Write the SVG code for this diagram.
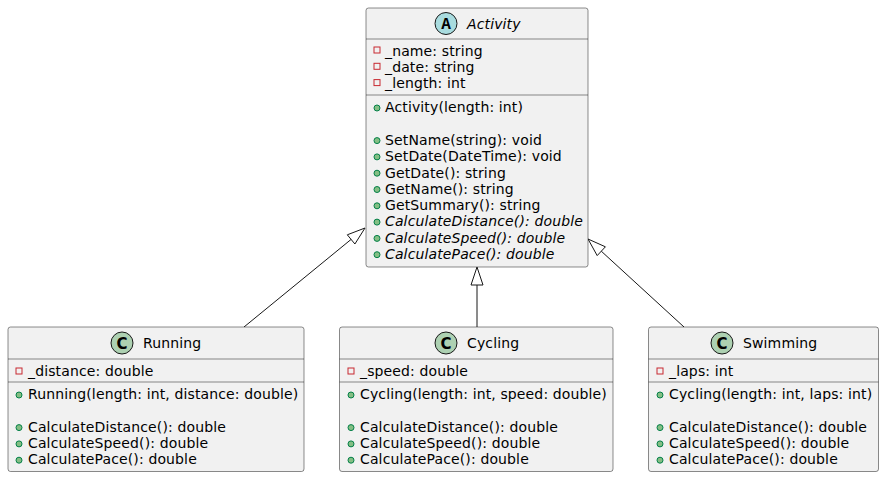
<svg xmlns="http://www.w3.org/2000/svg" width="884" height="478" viewBox="0 0 884 478">
<style>
.box{fill:#F1F1F1;stroke:#181818;stroke-width:0.5}
.sep{stroke:#181818;stroke-width:0.5}
.t{font-family:"DejaVu Sans","Liberation Sans",sans-serif;font-size:14px;letter-spacing:0.13px;fill:#000000}
.i{font-style:italic}
.cc{fill:#ADD1B2;stroke:#181818;stroke-width:1}
.ca{fill:#A9DCDF;stroke:#181818;stroke-width:1}
.cl{font-family:"DejaVu Sans","Liberation Sans",sans-serif;font-size:15px;font-weight:bold;fill:#000000;text-anchor:middle}
.al{font-family:"Liberation Mono","DejaVu Sans Mono",monospace;font-size:16px;font-weight:bold;fill:#000000;text-anchor:middle}
.priv{fill:none;stroke:#C82930;stroke-width:1}
.pub{fill:#84BE84;stroke:#038048;stroke-width:1}
.edge{stroke:#181818;stroke-width:1;fill:none}
.head{fill:none;stroke:#181818;stroke-width:1}
</style>
<g id="connectors">
  <path class="edge" d="M244,327 L351.1,239.4"/>
  <polygon class="head" points="365,228 354.9,244 347.3,234.8"/>
  <path class="edge" d="M477,327 L477,285"/>
  <polygon class="head" points="477,267 471,285 483,285"/>
  <path class="edge" d="M684,327 L601.3,251.2"/>
  <polygon class="head" points="588,239 605.4,246.8 597.2,255.6"/>
</g>
<g id="Activity">
  <rect class="box" x="366" y="8" width="222" height="259" rx="2.5"/>
  <circle class="ca" cx="446" cy="23.5" r="11"/>
  <text class="al" x="446" y="28.5">A</text>
  <text class="t i" x="467" y="28.5">Activity</text>
  <line class="sep" x1="366" y1="39" x2="588" y2="39"/>
  <rect class="priv" x="374" y="47" width="6" height="6"/>
  <text class="t" x="385" y="55.5">_name: string</text>
  <rect class="priv" x="374" y="63.3" width="6" height="6"/>
  <text class="t" x="385" y="71.8">_date: string</text>
  <rect class="priv" x="374" y="79.6" width="6" height="6"/>
  <text class="t" x="385" y="88.1">_length: int</text>
  <line class="sep" x1="366" y1="95" x2="588" y2="95"/>
  <circle class="pub" cx="377" cy="108" r="3"/>
  <text class="t" x="385" y="112.3">Activity(length: int)</text>
  <circle class="pub" cx="377" cy="140.6" r="3"/>
  <text class="t" x="385" y="144.9">SetName(string): void</text>
  <circle class="pub" cx="377" cy="156.9" r="3"/>
  <text class="t" x="385" y="161.2">SetDate(DateTime): void</text>
  <circle class="pub" cx="377" cy="173.2" r="3"/>
  <text class="t" x="385" y="177.5">GetDate(): string</text>
  <circle class="pub" cx="377" cy="189.5" r="3"/>
  <text class="t" x="385" y="193.8">GetName(): string</text>
  <circle class="pub" cx="377" cy="205.8" r="3"/>
  <text class="t" x="385" y="210.1">GetSummary(): string</text>
  <circle class="pub" cx="377" cy="222.1" r="3"/>
  <text class="t i" x="385" y="226.4">CalculateDistance(): double</text>
  <circle class="pub" cx="377" cy="238.4" r="3"/>
  <text class="t i" x="385" y="242.7">CalculateSpeed(): double</text>
  <circle class="pub" cx="377" cy="254.7" r="3"/>
  <text class="t i" x="385" y="259">CalculatePace(): double</text>
</g>
<g id="Running">
  <rect class="box" x="8" y="327" width="296" height="144.5" rx="2.5"/>
  <circle class="cc" cx="122" cy="343" r="11"/>
  <text class="cl" x="122" y="348.5">C</text>
  <text class="t" x="143" y="348">Running</text>
  <line class="sep" x1="8" y1="359" x2="304" y2="359"/>
  <rect class="priv" x="16" y="368" width="6" height="6"/>
  <text class="t" x="28" y="375.5">_distance: double</text>
  <line class="sep" x1="8" y1="382" x2="304" y2="382"/>
  <circle class="pub" cx="19" cy="395" r="3"/>
  <text class="t" x="28" y="399.2">Running(length: int, distance: double)</text>
  <circle class="pub" cx="19" cy="427.6" r="3"/>
  <text class="t" x="28" y="431.8">CalculateDistance(): double</text>
  <circle class="pub" cx="19" cy="443.9" r="3"/>
  <text class="t" x="28" y="448.1">CalculateSpeed(): double</text>
  <circle class="pub" cx="19" cy="460.2" r="3"/>
  <text class="t" x="28" y="464.4">CalculatePace(): double</text>
</g>
<g id="Cycling">
  <rect class="box" x="339.5" y="327" width="273.5" height="144.5" rx="2.5"/>
  <circle class="cc" cx="446" cy="343" r="11"/>
  <text class="cl" x="446" y="348.5">C</text>
  <text class="t" x="467" y="348">Cycling</text>
  <line class="sep" x1="339.5" y1="359" x2="613" y2="359"/>
  <rect class="priv" x="348" y="368" width="6" height="6"/>
  <text class="t" x="360" y="375.5">_speed: double</text>
  <line class="sep" x1="339.5" y1="382" x2="613" y2="382"/>
  <circle class="pub" cx="351" cy="395" r="3"/>
  <text class="t" x="360" y="399.2">Cycling(length: int, speed: double)</text>
  <circle class="pub" cx="351" cy="427.6" r="3"/>
  <text class="t" x="360" y="431.8">CalculateDistance(): double</text>
  <circle class="pub" cx="351" cy="443.9" r="3"/>
  <text class="t" x="360" y="448.1">CalculateSpeed(): double</text>
  <circle class="pub" cx="351" cy="460.2" r="3"/>
  <text class="t" x="360" y="464.4">CalculatePace(): double</text>
</g>
<g id="Swimming">
  <rect class="box" x="648.5" y="327" width="230" height="144.5" rx="2.5"/>
  <circle class="cc" cx="722" cy="343" r="11"/>
  <text class="cl" x="722" y="348.5">C</text>
  <text class="t" x="743" y="348">Swimming</text>
  <line class="sep" x1="648.5" y1="359" x2="878.5" y2="359"/>
  <rect class="priv" x="657" y="368" width="6" height="6"/>
  <text class="t" x="669" y="375.5">_laps: int</text>
  <line class="sep" x1="648.5" y1="382" x2="878.5" y2="382"/>
  <circle class="pub" cx="660" cy="395" r="3"/>
  <text class="t" x="669" y="399.2">Cycling(length: int, laps: int)</text>
  <circle class="pub" cx="660" cy="427.6" r="3"/>
  <text class="t" x="669" y="431.8">CalculateDistance(): double</text>
  <circle class="pub" cx="660" cy="443.9" r="3"/>
  <text class="t" x="669" y="448.1">CalculateSpeed(): double</text>
  <circle class="pub" cx="660" cy="460.2" r="3"/>
  <text class="t" x="669" y="464.4">CalculatePace(): double</text>
</g>
</svg>
